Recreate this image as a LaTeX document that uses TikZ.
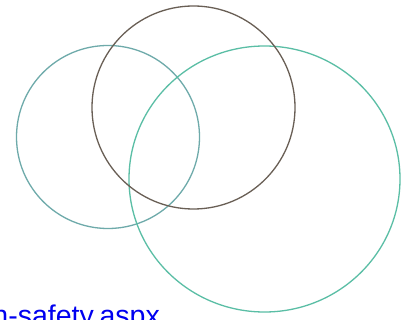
\documentclass[tikz,border=0pt]{standalone}
\usepackage{fontspec}
\setmainfont{Liberation Sans}
\definecolor{cteal}{RGB}{110,170,170}
\definecolor{cgreen}{RGB}{90,190,165}
\definecolor{cbrown}{RGB}{105,95,85}
\definecolor{clink}{RGB}{0,0,240}
\tikzset{ring/.style={line width=1.3pt}}
\begin{document}
\begin{tikzpicture}[x=1pt,y=-1pt]
\useasboundingbox (0,0) rectangle (412,320);
\fill[white] (0,0) rectangle (412,320);
\draw[ring,cteal] (108,137) circle [radius=91.5];
\draw[ring,cgreen] (264.5,179) ellipse [x radius=135.5, y radius=133];
\draw[ring,cbrown] (193.5,107.5) circle [radius=101.5];
\node[anchor=base east,inner sep=0pt,text=clink,font=\fontsize{28.5}{30}\selectfont] (url) at (160,325.5) {n-safety.aspx};
\end{tikzpicture}
\end{document}
